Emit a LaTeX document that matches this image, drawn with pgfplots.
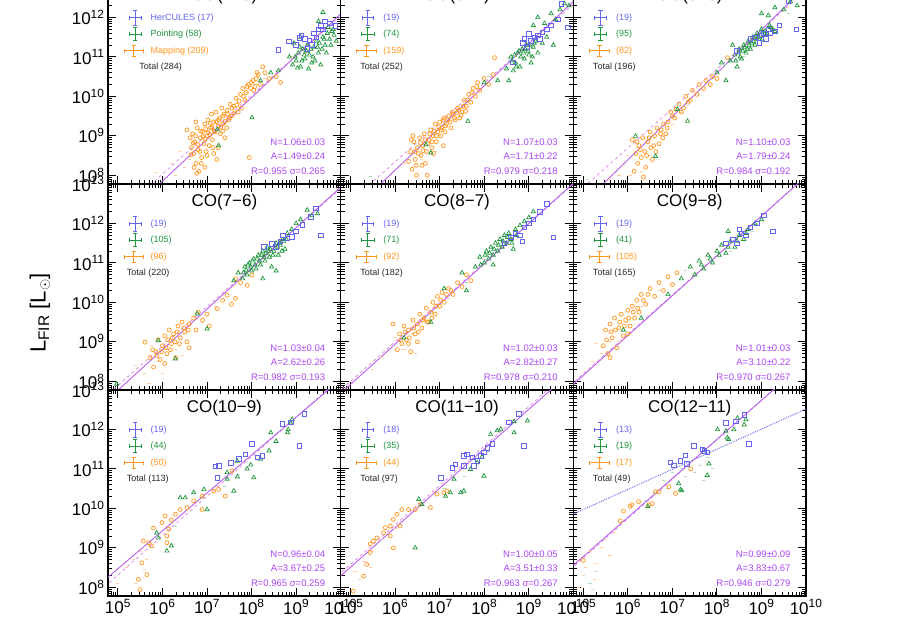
\documentclass[border=0pt]{standalone}
\usepackage{pgfplots}
\pgfplotsset{compat=1.18}
\usepackage{fontspec}
\setmainfont{Liberation Sans}
\definecolor{cblue}{RGB}{100,100,240}
\definecolor{cgreen}{RGB}{30,150,60}
\definecolor{corange}{RGB}{255,150,30}
\definecolor{cpurple}{RGB}{170,70,240}
\definecolor{cline}{RGB}{185,95,235}
\definecolor{cdash}{RGB}{225,150,235}
\definecolor{cfaintO}{RGB}{255,205,160}
\definecolor{cfaintG}{RGB}{175,220,185}
\newcommand{\lfont}{\fontsize{9}{10}\selectfont}
\pgfplotsset{
  panel/.style={
    scale only axis, width=232.7pt, height=206pt, anchor=south west,
    xmin=4.778, xmax=10, ymin=7.778, ymax=13,
    xtick={5,6,7,8,9,10}, ytick={8,9,10,11,12,13},
    minor xtick={4.845,4.903,4.954,5.301,5.477,5.602,5.699,5.778,5.845,5.903,5.954,6.301,6.477,6.602,6.699,6.778,6.845,6.903,6.954,7.301,7.477,7.602,7.699,7.778,7.845,7.903,7.954,8.301,8.477,8.602,8.699,8.778,8.845,8.903,8.954,9.301,9.477,9.602,9.699,9.778,9.845,9.903,9.954},
    minor ytick={7.845,7.903,7.954,8.301,8.477,8.602,8.699,8.778,8.845,8.903,8.954,9.301,9.477,9.602,9.699,9.778,9.845,9.903,9.954,10.301,10.477,10.602,10.699,10.778,10.845,10.903,10.954,11.301,11.477,11.602,11.699,11.778,11.845,11.903,11.954,12.301,12.477,12.602,12.699,12.778,12.845,12.903,12.954},
    xticklabels={}, yticklabels={},
    tick align=inside, major tick length=8pt, minor tick length=4pt,
    axis line style={line width=1.5pt, black},
    every tick/.style={black, line width=1pt},
    every minor tick/.style={black, line width=0.7pt},
    tick label style={font=\fontsize{17}{17}\selectfont, text=black},
    clip=true,
  },
  xlabs/.style={xticklabels={10\textsuperscript{5},10\textsuperscript{6},10\textsuperscript{7},10\textsuperscript{8},10\textsuperscript{9},10\textsuperscript{10}}},
  ylabs/.style={yticklabels={10\textsuperscript{8},10\textsuperscript{9},10\textsuperscript{10},10\textsuperscript{11},10\textsuperscript{12},10\textsuperscript{13}}},
  ptsO/.style={only marks, mark=o, mark size=2pt, corange, mark options={line width=0.7pt}},
  ptsG/.style={only marks, mark=triangle, mark size=2.4pt, cgreen, mark options={line width=0.7pt}},
  ptsB/.style={only marks, mark=square, mark size=2.3pt, cblue, mark options={line width=0.7pt}},
  faintO/.style={only marks, mark=-, mark size=1.6pt, cfaintO, mark options={line width=0.8pt}},
  faintG/.style={only marks, mark=-, mark size=1.6pt, cfaintG, mark options={line width=0.8pt}},
  fit/.style={cline, line width=0.9pt, no marks},
  fitd/.style={cdash, line width=0.9pt, dashed, no marks},
  legh/.style={#1, forget plot, line width=1pt, mark=|, mark size=2.2pt, mark options={#1, line width=1pt}},
  legv/.style={#1, forget plot, line width=1pt, mark=-, mark size=2.2pt, mark options={#1, line width=1pt}},
}
\newcommand{\legsyms}{%
  \addplot[legh=cblue] coordinates {(5.26,11.986) (5.52,11.986)};
  \addplot[legv=cblue] coordinates {(5.39,11.806) (5.39,12.166)};
  \addplot[legh=cgreen] coordinates {(5.25,11.58) (5.53,11.58)};
  \addplot[legv=cgreen] coordinates {(5.39,11.41) (5.39,11.75)};
  \addplot[legh=corange] coordinates {(5.14,11.15) (5.58,11.15)};
  \addplot[legv=corange] coordinates {(5.36,11.0) (5.36,11.3)};
}
\newcommand{\legtext}[5]{%
  \node[anchor=west, text=cblue, font=\lfont] at (rel axis cs:0.168,0.806) {#1};
  \node[anchor=west, text=cgreen, font=\lfont] at (rel axis cs:0.168,0.728) {#2};
  \node[anchor=west, text=corange, font=\lfont] at (rel axis cs:0.168,0.646) {#3};
  \node[anchor=west, text=black!85, font=\lfont] at (rel axis cs:#5,0.568) {Total (#4)};
}
\newcommand{\stats}[3]{%
  \node[anchor=east, text=cpurple, font=\fontsize{9.5}{10}\selectfont] at (rel axis cs:0.948,0.204) {#1};
  \node[anchor=east, text=cpurple, font=\fontsize{9.5}{10}\selectfont] at (rel axis cs:0.948,0.136) {#2};
  \node[anchor=east, text=cpurple, font=\fontsize{9.5}{10}\selectfont] at (rel axis cs:0.948,0.063) {#3};
}
\newcommand{\ttl}[1]{\node[font=\fontsize{17}{17}\selectfont] at (rel axis cs:0.5,0.912) {#1};}
\begin{document}
\begin{tikzpicture}
\path[use as bounding box] (0pt,0pt) rectangle (900pt,636pt);
\clip (0pt,0pt) rectangle (900pt,636pt);

% ---------------- Panel 1: CO(4-3)
\begin{axis}[panel, ylabs, at={(108pt,452pt)}]
\addplot[faintO] coordinates {(5.84,8.07) (6.2,8.3) (6.4,8.6) (6.5,8.2) (6.6,8.4) (7.0,9.1) (7.4,9.3) (7.6,9.6) (7.9,10.1) (8.1,10.3) (8.3,10.45) (8.9,11.0) (9.2,11.1) (6.3,8.0)};
\addplot[ptsO] coordinates {(6.62,8.95) (6.65,8.70) (6.68,9.05) (6.70,8.55) (6.72,8.85) (6.75,8.30) (6.78,9.20) (6.80,8.65) (6.82,8.10) (6.85,8.95) (6.88,8.45) (6.90,9.10) (6.93,8.80) (6.95,9.30) (6.98,8.60) (7.00,9.00) (7.02,9.40) (7.05,8.75) (7.08,9.20) (7.10,9.55) (7.12,8.90) (7.15,9.35) (7.18,9.10) (7.20,9.60) (7.22,8.40) (7.25,9.25) (7.28,9.45) (7.30,9.05) (7.33,9.70) (7.35,9.30) (7.38,9.55) (7.40,8.95) (7.45,9.65) (7.48,9.40) (7.52,9.80) (7.55,9.50) (7.60,9.75) (7.65,9.95) (7.70,9.60) (7.75,10.05) (7.80,10.20) (7.85,9.90) (7.90,10.25) (7.95,8.45) (8.00,10.35) (8.05,10.15) (8.10,10.45) (8.15,10.55) (8.20,10.30) (8.30,10.60) (8.40,10.45) (8.55,10.50) (8.65,10.35) (6.95,8.20) (7.15,8.55) (6.55,9.15) (7.25,8.70) (6.75,9.35) (8.25,10.75)
(6.86,9.12) (6.91,8.98) (6.97,9.18) (7.03,9.08) (7.07,9.32) (7.11,9.22) (7.16,9.12) (7.21,9.36) (7.26,9.4) (7.31,9.22) (7.36,9.5) (7.41,9.36) (7.46,9.55) (7.51,9.45) (7.56,9.7) (7.62,9.58) (7.67,9.78) (7.72,9.88) (7.77,9.7) (7.82,10.0) (7.88,10.1) (7.93,10.3) (7.98,10.2) (8.03,10.4) (8.08,10.25) (8.12,10.6) (6.64,8.52) (6.69,8.82) (6.74,9.0) (6.79,8.78) (6.84,8.6) (6.96,8.92) (7.06,9.02) (6.71,8.2) (6.77,8.05) (6.87,8.3) (7.0,8.5) (7.13,8.7) (7.35,9.12) (7.44,9.2)};
\addplot[ptsG] coordinates {(9.0,10.9) (9.05,11.1) (9.1,10.75) (9.15,11.2) (9.2,10.95) (9.25,11.3) (9.3,11.05) (9.35,10.85) (9.4,11.25) (9.45,11.4) (9.5,11.1) (9.55,10.8) (9.6,11.5) (9.65,11.3) (9.7,11.6) (9.75,11.45) (9.8,11.65) (9.85,11.55) (8.95,11.35) (8.85,11.0) (9.28,10.7) (9.5,11.9) (9.6,12.13) (8.43,10.6) (8.2,10.4) (8.01,9.46) (7.26,8.75) (7.23,9.16) (8.6,10.65) (9.9,11.4) (9.1,11.5)
(8.92,10.8) (8.98,11.0) (9.03,10.72) (9.08,11.25) (9.13,10.9) (9.18,11.05) (9.23,11.15) (9.33,11.2) (9.38,11.0) (9.42,10.9) (9.48,11.25) (9.52,11.35) (9.58,11.2) (9.63,11.45) (9.68,11.1) (9.72,11.75) (9.78,11.3) (9.83,11.7)};
\addplot[ptsB] coordinates {(8.6,11.18) (8.84,11.39) (9.07,11.49) (9.12,11.55) (9.2,11.45) (9.3,11.42) (9.4,11.6) (9.5,11.7) (9.55,11.78) (9.6,11.7) (9.75,11.85) (9.88,11.78) (9.25,11.2) (9.35,11.3) (9.45,11.5) (9.65,11.9) (9.0,11.3)};
\addplot[fitd] coordinates {(4,6.03) (11,13.03)};
\addplot[fit] coordinates {(4,5.73) (11,13.15)};
\legsyms
\legtext{HerCULES (17)}{Pointing (58)}{Mapping (209)}{284}{0.12}
\stats{N=1.06±0.03}{A=1.49±0.24}{R=0.955 σ=0.265}
\ttl{CO(4−3)}
\end{axis}

% ---------------- Panel 2: CO(5-4)
\begin{axis}[panel, at={(340.7pt,452pt)}]
\addplot[faintO] coordinates {(6.2,8.3) (6.3,8.55) (6.6,8.4) (7.0,9.0) (7.5,9.7) (7.9,10.2) (6.9,8.6)};
\addplot[faintG] coordinates {(5.45,7.97) (8.1,10.5) (8.55,10.95) (8.7,11.0) (9.0,11.2) (9.25,11.6) (9.6,11.9)};
\addplot[ptsO] coordinates {(6.30,8.35) (6.35,8.6) (6.38,8.15) (6.42,8.85) (6.45,8.4) (6.48,8.0) (6.5,8.7) (6.55,8.95) (6.58,8.5) (6.62,8.75) (6.65,9.05) (6.7,8.6) (6.72,8.0) (6.75,8.9) (6.8,9.15) (6.82,8.7) (6.85,9.0) (6.9,9.3) (6.92,8.85) (6.95,9.1) (7.0,9.35) (7.02,9.0) (7.05,9.2) (7.1,9.45) (7.12,9.1) (7.15,9.3) (7.2,9.5) (7.25,9.2) (7.3,9.55) (7.35,9.4) (7.4,9.7) (7.45,9.45) (7.5,9.6) (7.55,9.9) (7.6,9.75) (7.65,10.05) (7.7,9.85) (7.75,10.2) (7.8,10.0) (7.85,10.35) (7.9,10.15) (8.0,10.45) (8.1,10.3) (8.2,10.55) (8.23,10.98) (6.6,8.25) (7.08,8.75) (6.4,9.0)
(6.52,8.55) (6.57,8.82) (6.63,8.62) (6.67,8.9) (6.73,8.8) (6.78,9.05) (6.83,8.85) (6.88,9.12) (6.93,9.0) (6.98,9.22) (7.03,9.15) (7.08,9.4) (7.13,9.25) (7.18,9.4) (7.23,9.35) (7.28,9.6) (7.33,9.45) (7.38,9.58) (7.43,9.65) (7.48,9.52) (7.53,9.75) (7.58,9.62) (7.63,9.9) (6.44,8.6) (6.36,8.9) (6.47,8.25) (6.68,8.3) (6.86,8.55) (7.73,10.1) (7.83,10.25)};
\addplot[ptsG] coordinates {(6.69,8.78) (6.8,8.57) (7.63,9.37) (8.0,10.35) (8.3,10.4) (8.5,10.7) (8.6,11.0) (8.65,10.65) (8.7,10.85) (8.75,11.1) (8.8,10.75) (8.85,11.2) (8.9,10.95) (8.95,11.3) (9.0,11.05) (9.05,10.85) (9.1,11.25) (9.15,11.4) (9.2,11.1) (9.3,11.35) (9.4,11.5) (9.1,11.8) (9.2,12.0) (9.35,11.85) (9.5,12.1) (9.6,11.95) (9.7,12.2) (9.8,12.35) (9.9,12.3) (9.55,11.3) (8.55,10.4)
(8.62,10.9) (8.68,11.05) (8.72,10.75) (8.78,11.15) (8.82,11.0) (8.88,11.1) (8.92,11.2) (8.98,11.15) (9.02,11.3) (9.08,11.0) (9.12,11.35)};
\addplot[ptsB] coordinates {(8.64,10.86) (8.87,11.36) (8.9,11.45) (9.0,11.58) (9.05,11.4) (9.12,11.5) (9.2,11.55) (9.3,11.62) (9.4,11.7) (9.5,11.8) (9.65,11.95) (9.73,12.34) (9.88,11.75) (9.25,11.45) (8.95,11.25)};
\addplot[fitd] coordinates {(4,6.34) (11,13.34)};
\addplot[fit] coordinates {(4,5.99) (11,13.48)};
\legsyms
\legtext{(19)}{(74)}{(159)}{252}{0.069}
\stats{N=1.07±0.03}{A=1.71±0.22}{R=0.979 σ=0.218}
\ttl{CO(5−4)}
\end{axis}

% ---------------- Panel 3: CO(6-5)
\begin{axis}[panel, at={(573.4pt,452pt)}]
\addplot[faintO] coordinates {(5.8,8.0) (5.9,8.25) (6.0,8.5) (6.2,8.7) (6.3,8.1) (6.5,8.5) (6.8,8.9) (7.0,9.3) (7.2,9.6) (5.6,7.9) (6.05,8.0)};
\addplot[faintG] coordinates {(5.09,7.89) (8.2,10.8) (8.6,11.0) (9.0,11.4) (9.6,12.1)};
\addplot[ptsO] coordinates {(6.1,8.9) (6.14,8.1) (6.18,8.55) (6.22,8.3) (6.25,8.75) (6.3,8.45) (6.33,8.95) (6.38,8.6) (6.4,8.2) (6.45,8.85) (6.5,9.1) (6.52,8.7) (6.55,8.4) (6.6,9.0) (6.65,9.2) (6.7,8.8) (6.75,9.15) (6.8,9.3) (6.85,9.05) (6.9,9.35) (6.96,9.6) (7.05,9.45) (7.08,9.67) (7.15,9.8) (7.25,9.7) (7.3,10.0) (7.4,9.9) (7.45,10.15) (7.55,10.05) (7.6,10.3) (7.7,10.2) (7.75,10.4) (7.85,10.3) (7.9,10.5) (8.0,10.45) (8.24,10.98) (6.35,7.95)
(6.2,8.85) (6.28,8.65) (6.42,8.5) (6.48,8.95) (6.58,8.75) (6.63,8.6) (6.73,9.05) (6.78,8.95) (6.88,9.2) (7.0,9.5) (7.2,9.6) (7.35,9.85)};
\addplot[ptsG] coordinates {(6.17,8.99) (6.62,8.48) (7.11,9.67) (7.34,9.37) (8.0,10.6) (8.1,10.85) (8.2,10.4) (8.3,10.9) (8.4,11.05) (8.45,10.75) (8.5,11.2) (8.55,10.95) (8.6,11.3) (8.65,11.1) (8.7,11.4) (8.75,11.2) (8.8,11.5) (8.85,11.3) (8.9,11.6) (8.95,11.45) (9.0,11.7) (9.1,11.55) (9.2,11.75) (9.3,11.65) (9.0,12.1) (9.15,12.05) (9.3,12.25) (9.5,12.2) (9.65,12.4) (9.8,12.3) (9.9,12.6) (8.35,11.3)
(8.42,10.9) (8.48,11.1) (8.52,11.0) (8.58,11.15) (8.62,11.25) (8.68,11.2) (8.72,11.3) (8.78,11.35) (8.82,11.4) (8.88,11.45) (8.92,11.5) (8.98,11.55) (9.02,11.45) (9.08,11.65) (9.12,11.6) (9.18,11.8) (9.25,11.7)};
\addplot[ptsB] coordinates {(8.45,11.15) (8.75,11.45) (8.85,11.5) (9.0,11.55) (9.05,11.6) (9.1,11.45) (9.15,11.7) (9.2,11.6) (9.3,11.65) (9.6,12.42) (9.78,11.7) (9.4,11.8) (8.95,11.35)};
\addplot[fitd] coordinates {(4,6.69) (11,13.69)};
\addplot[fit] coordinates {(4,6.19) (11,13.89)};
\legsyms
\legtext{(19)}{(95)}{(82)}{196}{0.069}
\stats{N=1.10±0.03}{A=1.79±0.24}{R=0.984 σ=0.192}
\ttl{CO(6−5)}
\end{axis}

% ---------------- Panel 4: CO(7-6)
\begin{axis}[panel, ylabs, at={(108pt,246pt)}]
\addplot[faintO] coordinates {(5.4,8.4) (5.6,8.2) (5.75,8.9) (5.9,8.5) (6.0,8.2) (6.1,9.0) (6.3,8.8) (6.5,9.2) (6.9,9.5) (7.2,9.9) (7.6,10.4) (6.45,8.65) (5.7,7.95) (8.2,11.0) (8.6,11.4)};
\addplot[ptsO] coordinates {(5.61,8.99) (5.72,8.6) (5.8,8.36) (5.85,8.75) (5.9,9.05) (5.95,8.55) (6.0,8.9) (6.05,9.15) (6.1,8.7) (6.15,9.3) (6.2,8.95) (6.25,9.2) (6.3,8.6) (6.35,9.4) (6.4,9.1) (6.44,9.5) (6.5,9.25) (6.55,9.0) (6.6,9.45) (6.7,9.6) (6.75,9.3) (6.8,9.75) (6.9,9.55) (7.0,9.7) (7.05,9.4) (7.23,9.84) (7.35,10.05) (7.45,10.18) (7.55,9.95) (7.64,10.1) (7.64,10.6) (7.75,10.5) (7.9,10.43) (8.01,10.69) (6.6,8.85) (6.05,8.45)
(5.78,8.8) (5.88,8.65) (5.98,8.75) (6.08,8.85) (6.12,9.05) (6.18,8.8) (6.22,9.1) (6.28,9.0) (6.33,9.25) (6.38,8.95) (6.48,9.35) (6.58,9.3)};
\addplot[ptsG] coordinates {(4.97,7.93) (5.91,9.03) (6.29,8.57) (6.78,9.71) (7.0,9.33) (7.6,10.55) (7.7,10.75) (7.8,10.6) (7.85,10.9) (7.9,10.7) (7.95,11.0) (8.0,10.8) (8.05,11.1) (8.1,10.85) (8.15,11.2) (8.2,10.95) (8.25,11.3) (8.3,11.05) (8.35,11.4) (8.4,11.15) (8.45,10.9) (8.5,11.3) (8.55,11.5) (8.6,11.2) (8.65,11.45) (8.7,11.6) (8.75,11.35) (8.8,11.75) (8.9,11.85) (9.0,12.0) (9.1,12.1) (9.25,12.34) (9.35,12.2) (9.48,12.25) (8.55,10.8) (8.25,10.6)
(7.82,10.75) (7.88,10.82) (7.92,10.95) (7.98,10.9) (8.02,11.05) (8.08,10.95) (8.12,11.1) (8.18,11.05) (8.22,11.2) (8.28,11.15) (8.32,11.25) (8.38,11.3) (8.42,11.35) (8.48,11.2) (8.52,11.45) (8.58,11.4) (8.62,11.5) (8.68,11.3) (8.72,11.55) (8.78,11.6)};
\addplot[ptsB] coordinates {(8.28,11.41) (8.46,11.49) (8.55,11.41) (8.65,11.55) (8.8,11.62) (8.91,11.66) (9.0,11.8) (9.14,11.96) (9.33,12.17) (9.44,12.38) (9.55,11.7) (8.7,11.7)};
\addplot[fitd] coordinates {(4,6.89) (11,13.89)};
\addplot[fit] coordinates {(4,6.74) (11,13.95)};
\legsyms
\legtext{(19)}{(105)}{(96)}{220}{0.066}
\stats{N=1.03±0.04}{A=2.62±0.26}{R=0.982 σ=0.193}
\ttl{CO(7−6)}
\end{axis}

% ---------------- Panel 5: CO(8-7)
\begin{axis}[panel, at={(340.7pt,246pt)}]
\addplot[faintO] coordinates {(5.7,8.6) (5.9,8.9) (6.0,9.1) (6.2,8.8) (6.4,9.2) (6.6,9.5) (7.2,10.1) (5.5,8.3) (6.45,8.7)};
\addplot[faintG] coordinates {(7.6,10.5) (8.0,11.1) (8.4,11.5)};
\addplot[ptsO] coordinates {(6.05,8.8) (6.1,9.2) (6.15,8.95) (6.2,9.4) (6.25,9.05) (6.3,9.3) (6.35,8.75) (6.4,9.55) (6.45,9.2) (6.5,9.45) (6.55,9.7) (6.6,9.35) (6.65,9.6) (6.7,9.85) (6.75,9.5) (6.8,9.75) (6.85,10.0) (6.9,9.7) (6.95,10.15) (7.0,9.9) (7.05,10.25) (7.1,10.0) (7.2,10.35) (7.3,10.2) (7.4,10.5) (7.5,10.4) (7.6,10.7) (7.7,10.55) (6.3,8.95) (6.5,9.0) (5.95,9.45)
(6.12,9.05) (6.22,9.25) (6.32,9.1) (6.42,9.35) (6.52,9.25) (6.62,9.55) (6.72,9.5) (6.82,9.6) (6.92,9.9) (7.02,10.05) (7.15,10.2) (7.25,10.3)};
\addplot[ptsG] coordinates {(6.2,9.1) (6.8,9.5) (7.1,10.35) (7.5,10.75) (7.8,10.9) (7.9,11.15) (8.0,11.0) (8.05,11.3) (8.1,11.1) (8.15,11.4) (8.2,11.2) (8.25,11.5) (8.3,11.3) (8.35,11.6) (8.4,11.4) (8.45,11.7) (8.5,11.5) (8.55,11.75) (8.6,11.6) (8.7,11.85) (8.8,11.95) (8.9,12.05) (9.0,12.15) (9.1,12.3) (8.2,10.95) (7.6,10.3) (8.65,11.35)
(8.12,11.25) (8.22,11.35) (8.32,11.45) (8.42,11.55) (8.52,11.65) (8.62,11.5) (8.72,11.7) (8.02,11.2) (7.92,10.95)};
\addplot[ptsB] coordinates {(8.45,11.5) (8.6,11.65) (8.7,11.75) (8.8,11.7) (8.9,11.9) (9.0,12.0) (9.1,12.1) (9.25,12.3) (9.4,12.5) (9.55,11.65) (8.85,11.55)};
\addplot[fitd] coordinates {(4,7.0) (11,14.0)};
\addplot[fit] coordinates {(4,6.90) (11,14.04)};
\legsyms
\legtext{(19)}{(71)}{(92)}{182}{0.069}
\stats{N=1.02±0.03}{A=2.82±0.27}{R=0.978 σ=0.210}
\ttl{CO(8−7)}
\end{axis}

% ---------------- Panel 6: CO(9-8)
\begin{axis}[panel, at={(573.4pt,246pt)}]
\addplot[faintO] coordinates {(5.2,8.5) (5.4,8.7) (5.6,9.0) (5.8,9.0) (6.0,9.5) (6.3,9.9) (6.7,10.3) (5.3,8.95)};
\addplot[faintG] coordinates {(7.3,10.8) (7.8,11.1) (8.3,11.3) (8.8,11.8)};
\addplot[ptsO] coordinates {(5.45,8.9) (5.5,9.3) (5.55,8.7) (5.6,9.45) (5.65,9.1) (5.7,9.6) (5.75,8.85) (5.8,9.35) (5.85,9.7) (5.9,9.15) (5.95,9.55) (6.0,9.8) (6.05,9.4) (6.1,9.9) (6.15,9.6) (6.2,10.05) (6.25,9.75) (6.3,10.2) (6.4,9.95) (6.5,10.35) (6.6,10.15) (6.7,10.5) (6.8,10.3) (6.9,10.65) (7.0,10.45) (7.1,10.75) (5.6,8.6) (6.0,9.2)
(5.52,9.05) (5.62,9.25) (5.72,9.3) (5.82,9.5) (5.92,9.4) (6.02,9.6) (6.12,9.75) (6.22,9.85) (6.35,10.05) (6.45,10.2)};
\addplot[ptsG] coordinates {(5.9,9.3) (6.3,9.6) (6.9,10.2) (7.2,10.6) (7.4,10.9) (7.5,10.7) (7.6,11.05) (7.7,10.85) (7.8,11.2) (7.9,11.0) (8.0,11.3) (8.1,11.45) (8.2,11.25) (8.3,11.55) (8.4,11.4) (8.5,11.7) (8.6,11.6) (8.7,11.85) (8.85,12.0) (9.0,12.1) (8.25,11.8)
(7.65,10.95) (7.85,11.1) (8.05,11.2) (8.25,11.4) (8.45,11.55) (8.65,11.75)};
\addplot[ptsB] coordinates {(8.2,11.5) (8.35,11.6) (8.45,11.5) (8.55,11.75) (8.65,11.7) (8.75,11.9) (8.9,12.0) (9.05,12.2) (9.25,11.8) (8.5,11.85)};
\addplot[fitd] coordinates {(4,7.19) (11,14.19)};
\addplot[fit] coordinates {(4,7.14) (11,14.21)};
\legsyms
\legtext{(19)}{(41)}{(105)}{165}{0.069}
\stats{N=1.01±0.03}{A=3.10±0.22}{R=0.970 σ=0.267}
\ttl{CO(9−8)}
\end{axis}

% ---------------- Panel 7: CO(10-9)
\begin{axis}[panel, ylabs, xlabs, at={(108pt,40pt)}]
\addplot[faintO] coordinates {(5.2,8.5) (5.35,8.7) (5.4,8.1) (5.5,8.9) (5.65,8.7) (5.8,9.0) (5.0,8.1) (5.6,8.45)};
\addplot[faintG] coordinates {(6.3,9.55) (6.9,10.25) (7.4,10.55) (7.7,10.85) (8.2,11.3)};
\addplot[ptsO] coordinates {(5.46,8.2) (5.5,7.94) (5.54,8.62) (5.65,8.32) (5.57,9.17) (5.69,9.13) (5.75,9.05) (5.99,9.64) (6.06,9.81) (6.14,9.47) (6.1,9.3) (6.1,9.13) (6.29,9.85) (6.4,9.97) (6.55,10.02) (6.7,10.19) (6.89,10.31) (6.89,9.97) (7.15,10.44) (7.26,10.48) (7.41,10.31) (7.56,10.95) (5.8,9.5) (6.2,9.7)};
\addplot[ptsG] coordinates {(6.4,10.27) (6.51,10.27) (6.7,10.4) (6.93,10.48) (7.0,9.97) (7.45,10.74) (7.6,10.44) (7.45,10.91) (7.68,11.2) (7.68,10.8) (8.05,10.78) (7.98,11.1) (8.39,11.46) (8.43,11.92) (8.81,11.92) (8.88,12.17) (8.91,12.26) (8.82,12.0) (8.55,11.7) (8.2,11.25) (5.87,9.38) (5.91,9.25) (6.1,8.92) (6.2,9.05) (7.9,11.0)};
\addplot[ptsB] coordinates {(7.19,11.06) (7.26,11.08) (7.23,10.78) (7.53,11.16) (7.71,11.25) (7.86,11.37) (8.01,11.63) (8.13,11.29) (8.24,11.33) (8.69,12.14) (8.88,12.18) (9.18,12.39) (9.07,11.58)};
\addplot[fitd] coordinates {(4,7.31) (11,14.31)};
\addplot[fit] coordinates {(4,7.51) (11,14.23)};
\legsyms
\legtext{(19)}{(44)}{(50)}{113}{0.066}
\stats{N=0.96±0.04}{A=3.67±0.25}{R=0.965 σ=0.259}
\ttl{CO(10−9)}
\end{axis}

% ---------------- Panel 8: CO(11-10)
\begin{axis}[panel, xlabs, at={(340.7pt,40pt)}]
\addplot[faintO] coordinates {(5.1,8.4) (5.3,8.65) (5.5,8.9) (5.7,9.2) (6.0,9.5) (5.2,8.2) (5.45,8.5)};
\addplot[faintG] coordinates {(6.6,10.15) (7.1,10.5) (7.55,10.8) (7.9,11.2) (8.1,11.45)};
\addplot[ptsO] coordinates {(5.06,7.9) (5.36,8.58) (5.44,9.1) (5.51,9.17) (5.59,9.25) (5.74,9.38) (5.89,9.55) (5.96,9.72) (6.04,9.85) (6.15,9.97) (6.3,9.97) (6.45,9.97) (6.56,10.1) (6.79,10.02) (6.94,10.36) (7.09,10.4) (7.16,10.44) (5.89,9.3) (5.96,9.0) (6.11,9.55) (5.78,9.51) (5.29,8.28) (5.44,8.88)};
\addplot[ptsG] coordinates {(6.45,9.0) (6.53,10.23) (6.6,10.1) (7.13,10.31) (7.24,10.4) (7.32,10.74) (7.47,10.4) (7.54,10.44) (7.69,10.99) (7.84,11.16) (7.99,10.82) (8.14,11.88) (8.29,11.97) (8.37,12.01) (8.67,11.92) (8.97,12.22) (8.67,12.2) (7.95,11.3)};
\addplot[ptsB] coordinates {(7.02,10.78) (7.28,11.03) (7.35,11.12) (7.54,11.33) (7.61,11.37) (7.73,11.29) (7.77,11.08) (7.92,11.33) (7.99,11.42) (8.07,11.54) (8.18,11.63) (8.55,12.18) (8.78,12.39) (8.89,11.58) (7.54,11.08) (7.84,11.2)};
\addplot[fitd] coordinates {(4,7.58) (11,14.58)};
\addplot[fit] coordinates {(4,7.51) (11,14.51)};
\legsyms
\legtext{(18)}{(35)}{(44)}{97}{0.069}
\stats{N=1.00±0.05}{A=3.51±0.33}{R=0.963 σ=0.267}
\ttl{CO(11−10)}
\end{axis}

% ---------------- Panel 9: CO(12-11)
\begin{axis}[panel, xlabs, at={(573.4pt,40pt)}]
\addplot[faintO] coordinates {(4.9,8.0) (5.0,8.3) (5.05,8.5) (5.15,8.9) (5.25,8.2) (5.3,8.6) (5.4,9.0) (5.5,9.2) (5.6,8.8) (5.7,9.4) (5.2,7.95)};
\addplot[faintG] coordinates {(6.6,10.4) (6.8,10.7) (7.0,10.9) (7.2,11.0) (7.3,10.8) (7.4,11.2) (7.5,10.9) (7.6,11.1) (7.7,10.7) (7.8,11.3) (7.9,11.0) (6.9,10.5) (5.15,8.1) (5.3,8.4) (6.4,10.2) (8.2,11.6)};
\addplot[ptsO] coordinates {(5.0,8.68) (5.83,9.68) (5.9,9.93) (6.05,10.05) (6.09,10.09) (6.24,10.17) (6.47,10.09) (6.55,10.12) (6.62,10.42) (6.7,10.42) (6.92,10.55) (7.07,10.38) (7.41,11.0)};
\addplot[ptsG] coordinates {(6.45,10.05) (7.14,10.63) (7.18,10.47) (7.21,10.45) (7.71,11.42) (7.82,11.13) (7.78,10.84) (8.01,12.0) (8.2,11.96) (8.23,11.79) (8.38,12.0) (8.46,12.29) (8.61,12.12) (8.65,12.25) (8.26,11.75)};
\addplot[ptsB] coordinates {(6.95,11.17) (7.03,11.09) (7.18,11.21) (7.29,11.34) (7.33,11.13) (7.48,11.59) (7.67,11.5) (7.78,11.42) (8.2,12.17) (8.42,12.21) (8.61,12.37) (8.72,11.63) (7.72,11.45)};
\addplot[cblue, densely dotted, line width=0.9pt, no marks] coordinates {(4,9.46) (11,13.03)};
\addplot[fitd] coordinates {(4,7.74) (11,14.74)};
\addplot[fit] coordinates {(4,7.79) (11,14.72)};
\legsyms
\legtext{(13)}{(19)}{(17)}{49}{0.069}
\stats{N=0.99±0.09}{A=3.83±0.67}{R=0.946 σ=0.279}
\ttl{CO(12−11)}
\end{axis}

\node[rotate=90, font=\fontsize{22}{22}\selectfont] at (40pt,323pt) {L\textsubscript{FIR} [L\textsubscript{$\odot$}]};
\end{tikzpicture}
\end{document}
